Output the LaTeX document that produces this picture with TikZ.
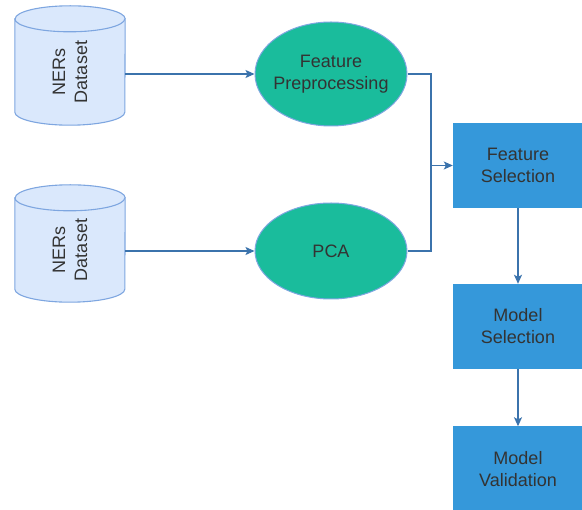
\documentclass[tikz,border=0pt]{standalone}
\usepackage{fontspec}
\setmainfont{Liberation Sans}
\usetikzlibrary{shapes.geometric,arrows.meta}
\definecolor{dbfill}{HTML}{DAE8FC}
\definecolor{dbline}{HTML}{7EA6E0}
\definecolor{teal}{HTML}{1ABC9C}
\definecolor{stepblue}{HTML}{3598DA}
\definecolor{arrowcol}{HTML}{3B73AC}
\definecolor{txt}{HTML}{333333}
\begin{document}
\begin{tikzpicture}[>={Stealth[length=9pt,width=8pt,inset=2pt]},x=1pt,y=-1pt,
  every node/.style={font=\fontsize{18}{22}\selectfont,text=txt,align=center},
  dbbox/.style={rectangle,minimum width=110,inner sep=0pt},
  dbshape/.style={draw=dbline,fill=dbfill,line width=1.1pt},
  oval/.style={ellipse,draw=dbline,fill=teal,line width=1pt,minimum width=152,inner sep=0pt},
  stepbox/.style={rectangle,fill=stepblue,minimum width=130,minimum height=85,inner sep=0pt},
  link/.style={draw=arrowcol,line width=1.2pt}]
	\useasboundingbox (0,0) rectangle (582,510);
	% datasets
	\node[dbbox,minimum height=119] (d1) at (70,65.5) {};
	\node[dbbox,minimum height=117] (d2) at (70,243.5) {};
	\foreach \d in {d1,d2}{
		\draw[dbshape] ([yshift=-13pt]\d.north west) -- ([yshift=13pt]\d.south west)
			arc[start angle=180,end angle=360,x radius=55pt,y radius=13pt]
			-- ([yshift=-13pt]\d.north east)
			arc[start angle=0,end angle=180,x radius=55pt,y radius=13pt] -- cycle;
		\draw[dbshape,fill=none] ([yshift=-13pt]\d.north west)
			arc[start angle=180,end angle=360,x radius=55pt,y radius=13pt];
	}
	\node[rotate=90] (d1text) at (70,72) {NERs\\Dataset};
	\node[rotate=90] (d2text) at (70,250) {NERs\\Dataset};
	% feature steps
	\node[oval,minimum height=104] (fp) at (331,74) {};
	\node (fptext) at (fp) {Feature\\Preprocessing};
	\node[oval,minimum height=96] (pca) at (331,251) {};
	\node (pcatext) at (pca) {PCA};
	% pipeline
	\node[stepbox] (fs) at (518,165.5) {Feature\\Selection};
	\node[stepbox] (ms) at (518,326.5) {Model\\Selection};
	\node[stepbox] (mv) at (518,469) {Model\\Validation};
	\coordinate (j) at (431,165.5);
	\draw[link,->] (d1.east |- fp.west) -- (fp.west);
	\draw[link,->] (d2.east |- pca.west) -- (pca.west);
	\draw[link] (fp.east) -| (j);
	\draw[link] (pca.east) -| (j);
	\draw[link,->] (j) -- (fs.west);
	\draw[link,->] (fs) -- (ms);
	\draw[link,->] (ms) -- (mv);
\end{tikzpicture}
\end{document}
